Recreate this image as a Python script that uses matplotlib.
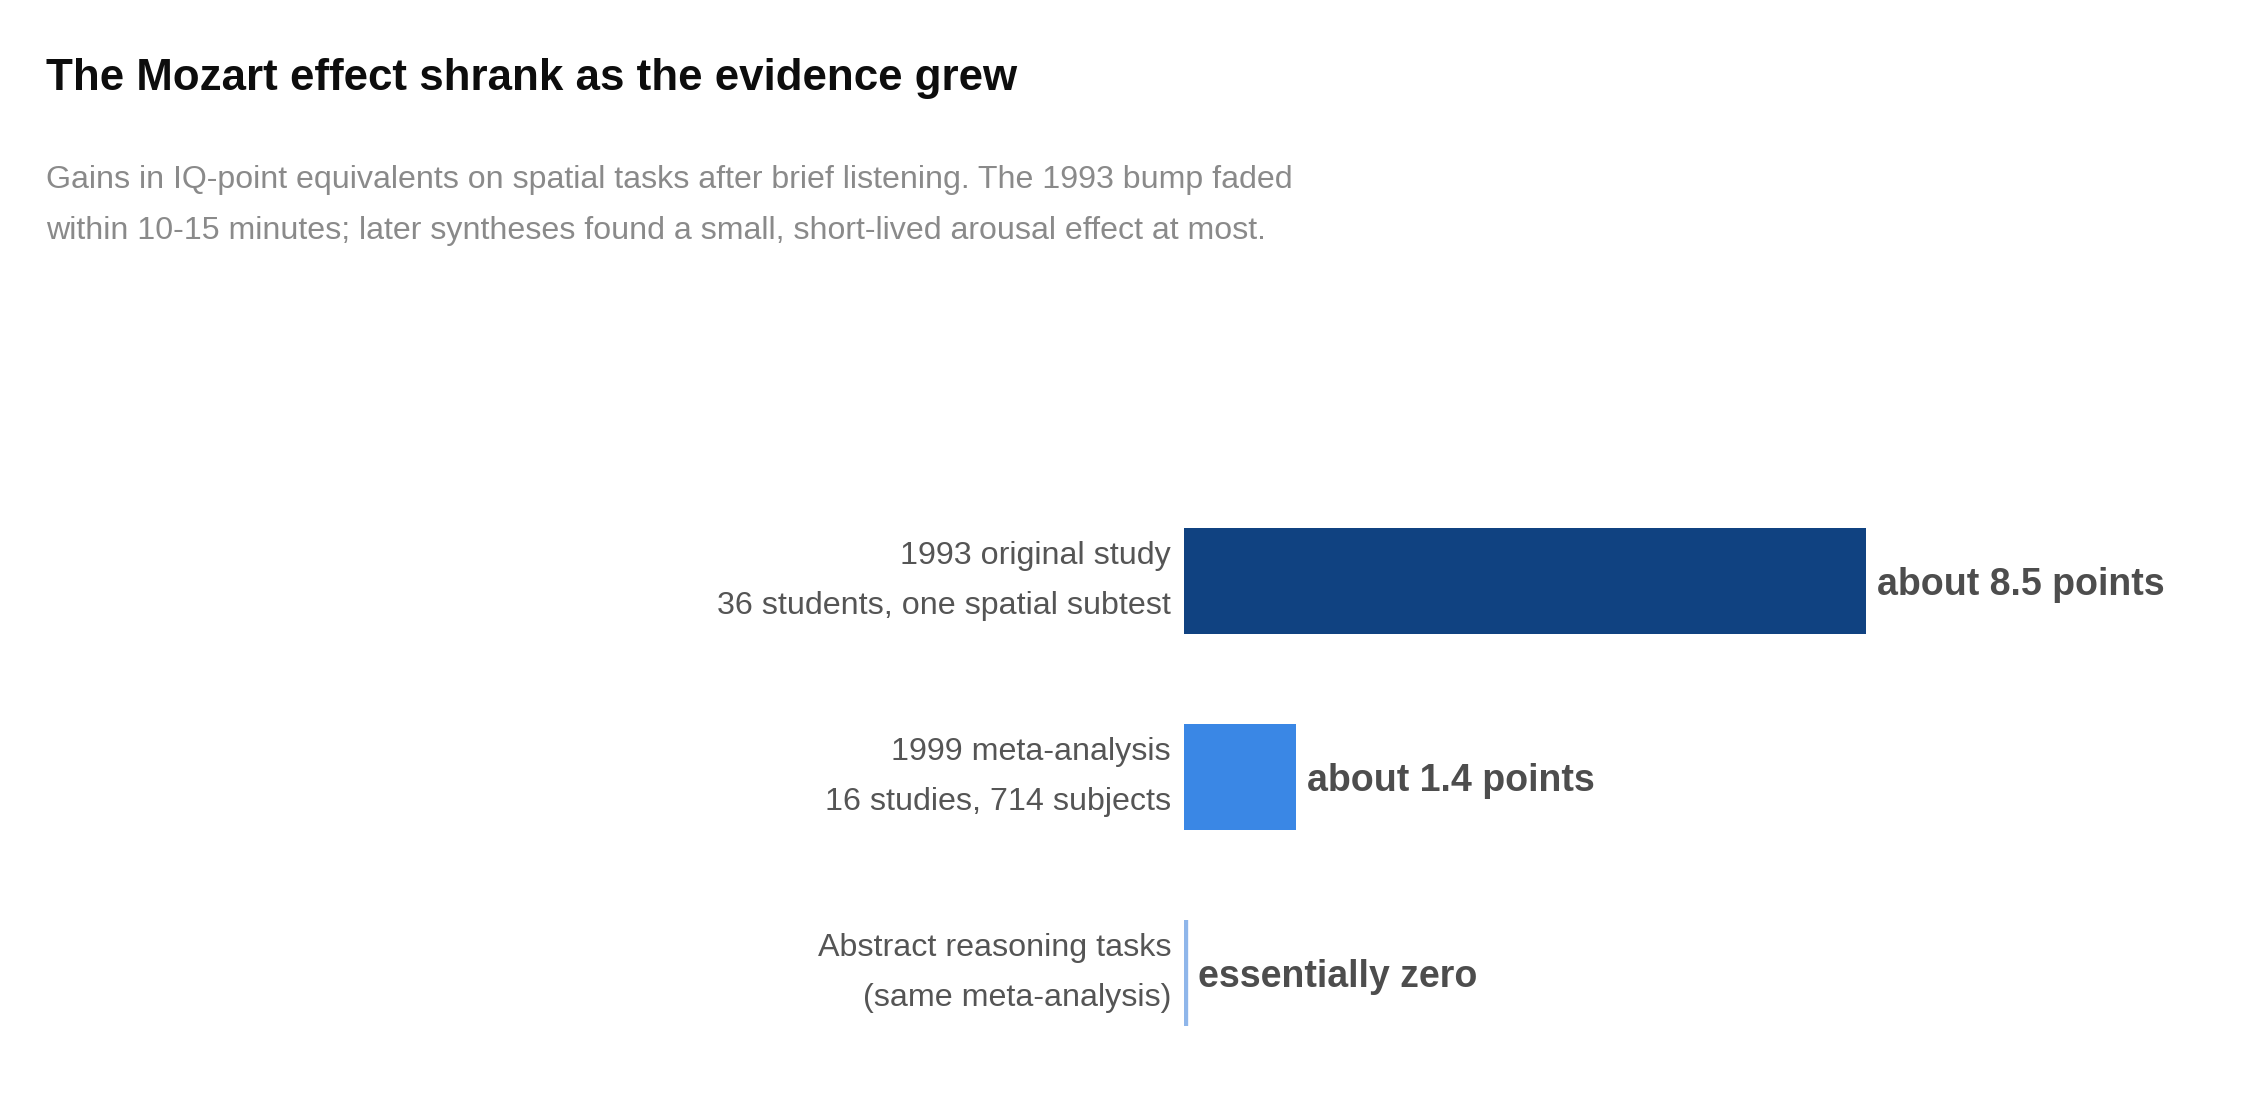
import matplotlib.pyplot as plt

plt.rcParams['font.family'] = ['Liberation Sans', 'DejaVu Sans']

labels = ['1993 original study\n36 students, one spatial subtest',
          '1999 meta-analysis\n16 studies, 714 subjects',
          'Abstract reasoning tasks\n(same meta-analysis)']
values = [8.5, 1.4, 0.0]
value_text = ['about 8.5 points', 'about 1.4 points', 'essentially zero']
colors = ['#104281', '#3a87e5', '#8fb6ea']

W, H = 2256, 1120
fig = plt.figure(figsize=(W / 100, H / 100), dpi=100)
fig.patch.set_facecolor('white')

fig.text(46 / W, 1 - 90 / H, 'The Mozart effect shrank as the evidence grew',
         fontsize=31.6, fontweight='bold', color='#0d0d0d', va='baseline')
fig.text(46 / W, 1 - 188 / H,
         'Gains in IQ-point equivalents on spatial tasks after brief listening. The 1993 bump faded',
         fontsize=23.1, color='#8a8a8a', va='baseline')
fig.text(46 / W, 1 - 239 / H,
         'within 10-15 minutes; later syntheses found a small, short-lived arousal effect at most.',
         fontsize=23.1, color='#8a8a8a', va='baseline')

# axes placed so that bars start at x~1190px
ax = fig.add_axes([1184 / W, 1 - 1071 / H, 802 / W, 588 / H])
ax.set_xlim(0, 10)
ax.set_ylim(2.5, -0.5)
ax.axis('off')

ypos = range(len(values))
ax.barh(ypos, values, height=0.545, color=colors, edgecolor=colors,
        linewidth=[0, 0, 6])

for y, v, lab, vt in zip(ypos, values, labels, value_text):
    ax.annotate(lab, (0, y), xytext=(-13, 0), textcoords='offset pixels',
                ha='right', va='center', fontsize=23.2, color='#555555',
                linespacing=1.85, annotation_clip=False)
    dx = 11 if v > 0 else 14
    ax.annotate(vt, (v, y), xytext=(dx, -4), textcoords='offset pixels',
                ha='left', va='center', fontsize=27, fontweight='bold',
                color='#4d4d4d', annotation_clip=False)

fig.savefig('out.png', dpi=100, facecolor='white')
